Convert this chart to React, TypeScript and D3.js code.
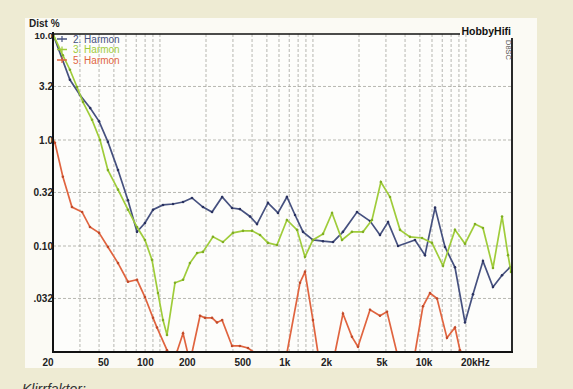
import React from 'react';
import * as d3 from 'd3';

// 2. Harmonische (blau)
const h2Freq = [20, 25.8, 30, 35, 40, 45.7, 53.2, 61.8, 70.8, 79.8, 90.1, 104.7, 121.7, 141.6, 162, 191, 219, 255, 296, 333, 388, 431, 508, 591, 676, 764, 861, 1000, 1164, 1352, 1571, 1941, 2361, 2742, 3097, 3598, 4645, 5397, 6283, 7296, 8479, 9860, 11120, 12920, 15020, 17220, 19420];
const h2Val = [10, 3.7, 2.66, 2.0, 1.5, 0.96, 0.52, 0.27, 0.136, 0.165, 0.22, 0.244, 0.249, 0.26, 0.284, 0.233, 0.209, 0.29, 0.228, 0.223, 0.19, 0.161, 0.255, 0.205, 0.29, 0.196, 0.136, 0.114, 0.111, 0.109, 0.136, 0.209, 0.172, 0.127, 0.168, 0.1, 0.114, 0.082, 0.23, 0.098, 0.063, 0.019, 0.035, 0.072, 0.041, 0.053, 0.063];

// 3. Harmonische (grün)
const h3Freq = [20, 23.2, 25.8, 28.7, 31.4, 36, 40.6, 45.7, 53.2, 61.8, 70.8, 79.8, 88.7, 97.1, 104.7, 111.2, 125.4, 141.6, 157, 175, 191, 222, 258, 300, 349, 400, 451, 508, 582, 676, 787, 887, 1000, 1164, 1333, 1549, 1799, 2124, 2432, 2780, 3191, 3707, 4307, 5164, 5998, 7080, 8479, 9860, 11460, 12920, 15020, 17220, 18840, 19700];
const h3Val = [10, 6.3, 4.6, 3.16, 2.28, 1.55, 1.0, 0.52, 0.34, 0.22, 0.151, 0.114, 0.074, 0.036, 0.02, 0.0145, 0.045, 0.048, 0.069, 0.086, 0.088, 0.122, 0.109, 0.133, 0.139, 0.139, 0.127, 0.107, 0.102, 0.176, 0.142, 0.079, 0.114, 0.13, 0.205, 0.114, 0.136, 0.136, 0.176, 0.402, 0.29, 0.142, 0.122, 0.119, 0.107, 0.065, 0.142, 0.105, 0.161, 0.148, 0.062, 0.19, 0.082, 0.057];

// 5. Harmonische (rot)
const h5Freq = [20, 20.6, 23.2, 26.6, 31, 34.9, 40, 45.7, 53.2, 61.8, 70.8, 79.8, 90.1, 95.7, 111.2, 119, 129, 141.6, 157, 182.8, 197, 219, 236, 255, 296, 333, 376, 418, 470, 600, 676, 823, 887, 1000, 1079, 1200, 1393, 1571, 1799, 1969, 2361, 2742, 3048, 3541, 4000, 4645, 5236, 5822, 6472, 7516, 8479, 9141, 9860, 20000];
const h5Val = [1.0, 0.94, 0.45, 0.233, 0.209, 0.151, 0.133, 0.098, 0.069, 0.046, 0.048, 0.033, 0.021, 0.017, 0.0104, 0.008, 0.01, 0.015, 0.008, 0.022, 0.021, 0.021, 0.019, 0.02, 0.0114, 0.0114, 0.0109, 0.0098, 0.007, 0.007, 0.0098, 0.045, 0.057, 0.02, 0.0098, 0.007, 0.0098, 0.023, 0.0139, 0.0112, 0.025, 0.022, 0.024, 0.0098, 0.007, 0.0098, 0.027, 0.036, 0.032, 0.0136, 0.017, 0.0104, 0.007, 0.005];

const yTicks = [10, 3.2, 1.0, 0.32, 0.1, 0.032];
const yTickLabels = ['10.0', '3.2', '1.0', '0.32', '0.10', '.032'];
const xTicks = [20, 50, 100, 200, 500, 1000, 2000, 5000, 10000, 20000];
const xTickLabels = ['20', '50', '100', '200', '500', '1k', '2k', '5k', '10k', '20kHz'];
const seriesNames = ['2. Harmon', '3. Harmon', '5. Harmon'];
const seriesColors = ['#46517f', '#9fcc3a', '#e0643f'];
const dotColors = ['#2a3260', '#7fae22', '#c04a2a'];

const W = 573;
const H = 389;
const left = 53;
const right = 512;
const top = 34;
const bottom = 352;

export default function App() {
  const x = d3.scaleLog().domain([20, 20000]).range([left, right]);
  const y = d3.scaleLog().domain([0.01, 10]).range([bottom, top]);
  // Beschriftung im Original leicht gestaucht gegenüber dem Raster
  const xLabel = d3.scaleLog().domain([20, 10000]).range([48, 424]);

  const gridF: number[] = [];
  [10, 100, 1000, 10000].forEach((d) => {
    for (let k = 1; k < 10; k++) {
      const f = d * k;
      if (f > 20 && f < 20000) gridF.push(f);
    }
  });

  const series = [
    h2Freq.map((f, i) => [f, h2Val[i]] as [number, number]),
    h3Freq.map((f, i) => [f, h3Val[i]] as [number, number]),
    h5Freq.map((f, i) => [f, h5Val[i]] as [number, number]),
  ];
  const line = d3
    .line<[number, number]>()
    .x((d) => x(d[0]))
    .y((d) => y(d[1]));

  const font = '"Liberation Sans Narrow", "Liberation Sans", Arial, sans-serif';

  return (
    <svg
      width={W}
      height={H}
      style={{ position: 'absolute', left: 0, top: 0 }}
      fontFamily={font}
    >
      <rect width={W} height={H} fill="#eeebd3" />
      <rect x={25} y={18} width={512} height={350} fill="#fbfaf4" />
      <rect x={left} y={top} width={right - left} height={bottom - top} fill="#fdfdfb" />
      <defs>
        <clipPath id="plot">
          <rect x={left} y={top} width={right - left} height={bottom - top} />
        </clipPath>
      </defs>

      {gridF.map((f) => (
        <line
          key={'v' + f}
          x1={x(f)}
          x2={x(f)}
          y1={top}
          y2={bottom}
          stroke="#a5a59e"
          strokeWidth={0.8}
          strokeDasharray="3,2"
        />
      ))}
      {yTicks.slice(1).map((v) => (
        <line
          key={'h' + v}
          x1={left}
          x2={right}
          y1={y(v)}
          y2={y(v)}
          stroke="#a5a59e"
          strokeWidth={0.8}
          strokeDasharray="3,2"
        />
      ))}

      <g clipPath="url(#plot)">
        {series.map((s, i) => (
          <g key={i}>
            <path d={line(s) as string} fill="none" stroke={seriesColors[i]} strokeWidth={1.7} />
            {s.map((d, j) => (
              <circle key={j} cx={x(d[0])} cy={y(d[1])} r={1.3} fill={dotColors[i]} />
            ))}
          </g>
        ))}
      </g>

      {/* Rahmen */}
      <line x1={left} x2={460} y1={top} y2={top} stroke="#111" strokeWidth={1.3} />
      <line x1={left} x2={left} y1={top - 2} y2={bottom + 1} stroke="#111" strokeWidth={2} />
      <line x1={left - 1} x2={right + 1} y1={bottom} y2={bottom} stroke="#111" strokeWidth={2} />
      <line x1={right} x2={right} y1={38} y2={bottom + 1} stroke="#111" strokeWidth={1.8} />

      <text x={511} y={35} textAnchor="end" fontSize={10.5} fill="#111" fontWeight="bold">
        HobbyHifi
      </text>
      <text
        transform={`translate(${506},${40}) rotate(90)`}
        fontSize={7.5}
        fill="#555"
      >
        D8SC
      </text>

      <text x={29} y={27} fontSize={10} fontWeight="bold" fill="#222">
        Dist %
      </text>
      {yTicks.map((v, i) => (
        <text
          key={v}
          x={53}
          y={y(v) + (i === 0 ? 4.5 : 4)}
          textAnchor="end"
          fontSize={i === 0 ? 9.5 : 10}
          fontWeight="bold"
          fill="#222"
        >
          {yTickLabels[i]}
        </text>
      ))}
      {xTicks.map((f, i) => (
        <text
          key={f}
          x={i === xTicks.length - 1 ? xLabel(f) - 5 : xLabel(f)}
          y={366}
          textAnchor={i === xTicks.length - 1 ? 'start' : 'middle'}
          fontSize={10}
          fontWeight="bold"
          fill="#222"
        >
          {xTickLabels[i]}
        </text>
      ))}

      {seriesNames.map((n, i) => (
        <g key={n} transform={`translate(0,${42 + i * 10.5})`}>
          <line x1={57} x2={67} y1={-3} y2={-3} stroke={seriesColors[i]} strokeWidth={1.5} />
          <line x1={62} x2={62} y1={-6} y2={0} stroke={seriesColors[i]} strokeWidth={1.2} />
          <text x={73} y={0.5} fontSize={10} fill={seriesColors[i]}>
            {n}
          </text>
        </g>
      ))}

      <text x={22} y={394} fontSize={14} fontStyle="italic" fill="#333" fontFamily="Liberation Sans, sans-serif">
        Klirrfaktor:
      </text>
    </svg>
  );
}
